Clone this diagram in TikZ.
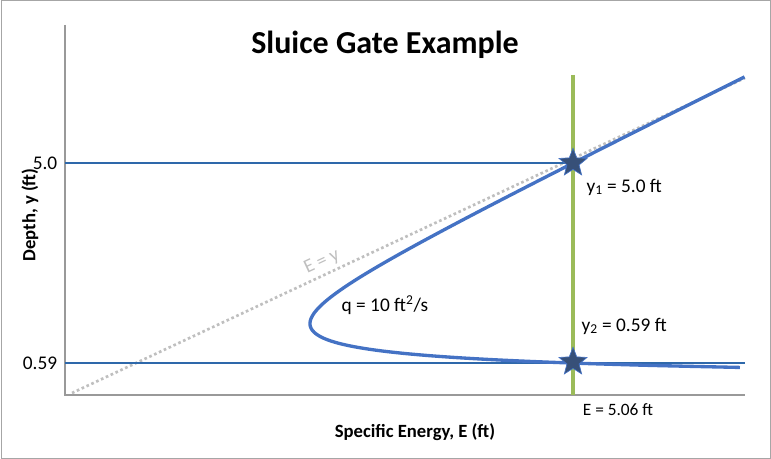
\documentclass[tikz,border=0pt]{standalone}
\usepackage{fontspec}
\setmainfont{Carlito}
\usetikzlibrary{shapes.geometric}
\tikzset{every picture/.style={line width=0.75pt}}
\definecolor{curveblue}{RGB}{68,114,196}
\definecolor{lineblue}{RGB}{46,104,170}
\definecolor{gatgreen}{RGB}{155,187,89}
\definecolor{stardark}{RGB}{55,80,120}
\tikzset{
  lbl/.style={inner sep=0.75pt,font=\fontsize{14.5}{17}\selectfont},
  axlbl/.style={inner sep=0.75pt,font=\bfseries\fontsize{14}{16}\selectfont},
  starmark/.style={star,star points=5,star point ratio=2.3,minimum size=22pt,inner sep=0pt,fill=stardark,draw=curveblue,line width=0.5pt},
  level/.style={color=lineblue,line width=0.9pt}
}
\begin{document}
\begin{tikzpicture}[x=0.75pt,y=0.75pt,yscale=-1,xscale=1]
		\useasboundingbox (0,0) rectangle (771,459);
		\draw [color=gray!70] (1,1) rectangle (770,458);
		
		%axes
		\coordinate (top) at (65,25);
		\coordinate (orig) at (65,395);
		\coordinate (xend) at (745,395);
		\draw [color=gray!80,line width=1pt] (top) -- (orig) -- (xend);
		
		%E = y
		\draw [color=gray!50,dotted,line width=2pt] (72,393) -- (745,78);
		\draw (322,262) node [lbl,rotate=25,color=gray!50] {E = y};
		
		%gate
		\draw [color=gatgreen,line width=3pt] (573,75) -- (573,395);
		
		%levels
		\coordinate (l1) at (65,163);
		\coordinate (l2) at (65,363);
		\coordinate (r2) at (745,363);
		\coordinate (s1) at (573,163);
		\coordinate (s2) at (573,362);
		\draw [level] (l1) -- (s1);
		\draw [level] (l2) -- (r2);
		
		%specific energy curve
		\draw [color=curveblue,line width=2.5pt,smooth,samples=150,domain=0.493:6.9,variable=\y]
			plot ({109.5+91.6*(\y+1.553/(\y*\y))},{389.8-45.35*\y});
		\node [starmark] (m1) at (s1) {};
		\node [starmark] (m2) at (s2) {};
		
		\draw (385,45) node [inner sep=0.75pt,font=\bfseries\fontsize{24}{28}\selectfont] (title) {Sluice Gate Example};
		\draw (45,163) node [lbl] (t1) {5.0};
		\draw (40,363) node [lbl] (t2) {0.59};
		\draw (585,187) node [lbl,anchor=west] (y1) {y\textsubscript{1} = 5.0 ft};
		\draw (580,326) node [lbl,anchor=west] (y2) {y\textsubscript{2} = 0.59 ft};
		\draw (385,305) node [lbl] (q) {q = 10 ft\textsuperscript{2}/s};
		\draw (618,410) node [lbl,font=\fontsize{13}{15}\selectfont] (e) {E = 5.06 ft};
		\draw (30,215) node [axlbl,rotate=90] (ylab) {Depth, y (ft)};
		\draw (415,432) node [axlbl] (xlab) {Specific Energy, E (ft)};
\end{tikzpicture}
\end{document}
